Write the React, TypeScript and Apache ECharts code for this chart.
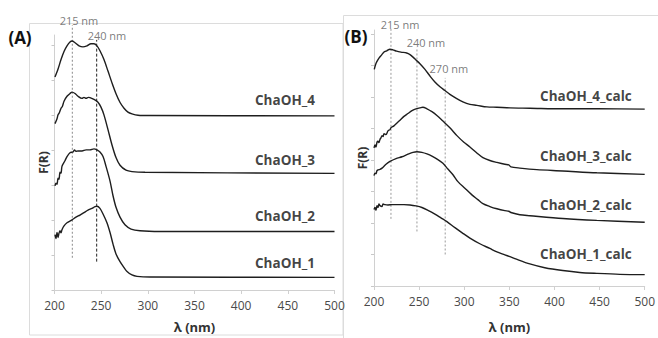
import React, { useEffect, useRef } from "react";
import * as echarts from "echarts";

type P = [number, number];

// x-axis tick values (nm)
const xTickValues = [200, 250, 300, 350, 400, 450, 500];
const yTicksA = [0, 1, 2, 3, 4, 5, 6, 7];
const yTicksB = [0, 1, 2, 3, 4, 5, 6, 7, 8];

// Panel A spectra [wavelength nm, F(R) offset units]
const chaOH4: P[] = [[200.5,6.08],[203.8,6.31],[207,6.58],[210.2,6.81],[213.4,6.97],[216.6,7.08],[218.8,7.11],[222,7.06],[226.3,6.97],[230.5,6.94],[234.8,6.97],[239.1,7.03],[242.3,7.03],[245.5,6.97],[248.7,6.83],[253,6.58],[257.3,6.25],[261.5,5.92],[265.8,5.61],[270.1,5.36],[274.5,5.19],[278.7,5.08],[283,5.03],[289.5,4.99],[302.3,4.98],[500,4.97]];
const chaOH3: P[] = [[200.5,4.75],[202.7,4.89],[203.8,5.0],[205.2,5.06],[207,5.19],[208.4,5.24],[210.2,5.39],[213.4,5.53],[216.6,5.61],[218.8,5.65],[222,5.61],[225.2,5.53],[229.5,5.47],[231.6,5.5],[233.8,5.47],[236.2,5.5],[238,5.49],[242.3,5.44],[246.6,5.36],[249.8,5.22],[253,5.0],[257.3,4.58],[261.6,4.14],[265.9,3.78],[270.2,3.56],[276.6,3.42],[283,3.38],[297,3.36],[500,3.33]];
const chaOH2: P[] = [[200.5,2.97],[201.6,3.05],[202.7,3.02],[203.8,3.19],[204.8,3.16],[205.9,3.36],[207,3.33],[208,3.53],[211.2,3.69],[213.4,3.81],[216.6,3.92],[219.8,3.94],[221.5,4.0],[223,3.96],[225.2,3.97],[229.5,3.97],[233.8,4.0],[238,4.0],[242.3,4.03],[245.5,4.0],[248.7,3.94],[252,3.81],[255.2,3.53],[259.5,3.11],[262.7,2.69],[265.9,2.36],[270.2,2.08],[275.5,1.86],[282,1.74],[291.6,1.69],[313,1.67],[500,1.67]];
const chaOH1: P[] = [[200.5,1.58],[201.6,1.47],[202.7,1.64],[203.8,1.5],[204.8,1.62],[205.9,1.69],[207,1.63],[208,1.72],[210.2,1.83],[213.4,1.92],[218.8,2.0],[223,2.08],[227.3,2.14],[231.6,2.21],[235.9,2.28],[240.2,2.33],[243.4,2.38],[245.5,2.39],[248.7,2.33],[252,2.17],[256.2,1.92],[259.5,1.64],[262.7,1.31],[265.9,1.03],[270.2,0.81],[274.5,0.64],[277.7,0.53],[283,0.43],[288.4,0.39],[302.3,0.37],[500,0.36]];

// Panel B spectra
const chaOH4calc: P[] = [[200.3,6.87],[201.7,7.02],[203,7.11],[205.5,7.23],[208.5,7.33],[211.1,7.42],[214.1,7.46],[217.7,7.51],[221,7.49],[225.1,7.45],[229.9,7.42],[236.2,7.39],[239.9,7.34],[243.2,7.26],[246.5,7.17],[250.9,7.05],[256.5,6.87],[262,6.66],[267.5,6.47],[273.1,6.32],[278.6,6.2],[284.1,6.08],[290.8,5.96],[298.5,5.84],[306.3,5.76],[314,5.73],[325.1,5.68],[336.2,5.67],[350.6,5.65],[372.7,5.64],[409.2,5.62],[446.9,5.62],[500,5.61]];
const chaOH3calc: P[] = [[200,4.38],[201.1,4.47],[202.2,4.41],[203.3,4.56],[204.4,4.59],[205.5,4.55],[206.6,4.65],[207.7,4.7],[208.9,4.77],[210,4.74],[211.1,4.83],[213.3,4.8],[215.5,4.92],[217.7,4.96],[218.8,5.02],[222.1,5.08],[225.5,5.17],[228.8,5.26],[233.2,5.38],[237.6,5.47],[242.1,5.56],[246.5,5.62],[250.9,5.65],[254.2,5.67],[258.7,5.62],[264.2,5.53],[269.7,5.41],[276.4,5.23],[284.1,5.02],[291.9,4.77],[299.6,4.56],[306.3,4.41],[314,4.22],[320.7,4.07],[328.4,3.98],[336.2,3.92],[345,3.86],[349.4,3.84],[351.7,3.78],[361.6,3.74],[380.4,3.69],[409.2,3.65],[446.9,3.59],[500,3.54]];
const chaOH2calc: P[] = [[200,3.5],[201.1,3.58],[202.2,3.56],[203.3,3.66],[204.4,3.68],[206.6,3.7],[208.9,3.74],[213.3,3.86],[217.7,3.95],[224.4,4.04],[231,4.1],[237.6,4.18],[243.2,4.24],[247.6,4.26],[253.1,4.24],[258.7,4.19],[264.2,4.12],[270.8,4.01],[276.4,3.89],[281.9,3.71],[287.5,3.53],[293,3.31],[300.7,3.1],[308.5,2.89],[315.1,2.74],[320.7,2.61],[328.4,2.52],[336.2,2.45],[345,2.39],[349.4,2.37],[351.7,2.33],[361.6,2.26],[372.7,2.23],[409.2,2.14],[446.9,2.08],[500,2.02]];
const chaOH1calc: P[] = [[200,2.43],[201.1,2.49],[202.2,2.4],[203.3,2.55],[204.4,2.49],[205.5,2.6],[206.6,2.55],[208.9,2.52],[210,2.6],[212.2,2.58],[215.5,2.57],[219.9,2.58],[226.6,2.58],[233.2,2.58],[239.9,2.57],[246.5,2.54],[253.1,2.49],[259.8,2.4],[267.5,2.28],[274.2,2.16],[280.8,2.04],[289.7,1.85],[298.5,1.67],[306.3,1.52],[317.3,1.34],[328.4,1.19],[336.2,1.08],[345,0.99],[350.6,0.93],[356.1,0.87],[372.7,0.7],[389.3,0.58],[409.2,0.49],[428,0.43],[446.9,0.4],[472.4,0.37],[500,0.36]];

// Guide lines (nm, from-to in F(R) units)
const guideA215: P[] = [[219.1, 0.92], [219.1, 7.56]];
const guideA240: P[] = [[245.2, 0.81], [245.2, 7.14]];
const guideB215: P[] = [[218.8, 2.13], [218.8, 8.18]];
const guideB240: P[] = [[247.6, 1.73], [247.6, 7.57]];
const guideB270: P[] = [[278.9, 1.0], [278.9, 6.6]];

// Annotation texts: [nm, value, text]
const annotA: [number, number, string][] = [[226.2, 7.69, "215 nm"], [256.2, 7.28, "240 nm"]];
const annotB: [number, number, string][] = [[228.8, 8.3, "215 nm"], [257.6, 7.72, "240 nm"], [283.0, 6.9, "270 nm"]];

// Series names (right edge position in data units)
const namesA: [number, number, string][] = [[479.1, 5.42, "ChaOH_4"], [479.1, 3.72, "ChaOH_3"], [479.1, 2.11, "ChaOH_2"], [479.1, 0.78, "ChaOH_1"]];
const namesB: [number, number, string][] = [[485.6, 6.02, "ChaOH_4_calc"], [485.6, 4.13, "ChaOH_3_calc"], [485.6, 2.58, "ChaOH_2_calc"], [485.6, 1.0, "ChaOH_1_calc"]];

const FONT = "Open Sans";

export default function App() {
  const ref = useRef<HTMLDivElement>(null);
  useEffect(() => {
    if (!ref.current) return;
    const chart = echarts.init(ref.current, undefined, { renderer: "svg" });

    const curve = (data: P[], gi: number) => ({
      type: "line",
      xAxisIndex: gi,
      yAxisIndex: gi,
      data,
      symbol: "none",
      smooth: 0.3,
      clip: false,
      silent: true,
      lineStyle: { color: "#1e1e1e", width: 1.4 },
    });
    const guide = (data: P[], gi: number, color: string, dash: number[]) => ({
      type: "line",
      xAxisIndex: gi,
      yAxisIndex: gi,
      data,
      symbol: "none",
      clip: false,
      silent: true,
      lineStyle: { color, width: 1, type: dash },
    });
    const texts = (items: [number, number, string][], gi: number, position: string, style: any) => ({
      type: "scatter",
      xAxisIndex: gi,
      yAxisIndex: gi,
      symbolSize: 0,
      clip: false,
      silent: true,
      data: items.map((d) => ({ value: [d[0], d[1]], label: { formatter: d[2] } })),
      label: { show: true, position, distance: 0, fontFamily: FONT, ...style },
    });

    const xAxis = (gi: number) => ({
      type: "value",
      gridIndex: gi,
      min: 200,
      max: 500,
      interval: 50,
      name: "λ (nm)",
      nameLocation: "middle",
      nameGap: gi === 0 ? 30 : 34,
      nameTextStyle: { fontFamily: FONT, fontWeight: "bold", fontSize: 13, color: "#333333" },
      axisLine: { lineStyle: { color: "#d0d0d0" } },
      axisTick: { show: true, length: 4, lineStyle: { color: "#d0d0d0" }, customValues: xTickValues },
      axisLabel: { fontFamily: FONT, fontSize: 12, color: "#4a4a4a", margin: 9, customValues: xTickValues },
      splitLine: { show: false },
    });
    const yAxis = (gi: number, max: number, ticks: number[], gap: number) => ({
      type: "value",
      gridIndex: gi,
      min: 0,
      max,
      name: "F(R)",
      nameLocation: "middle",
      nameGap: gap,
      nameRotate: 90,
      nameTextStyle: { fontFamily: FONT, fontWeight: "bold", fontSize: 12, color: "#333333" },
      axisLine: { show: true, lineStyle: { color: "#d0d0d0" } },
      axisTick: { show: true, length: 3, lineStyle: { color: "#c8c8c8" }, customValues: ticks },
      axisLabel: { show: false },
      splitLine: { show: false },
    });

    const nameStyle = { fontWeight: "bold", fontSize: 13.5, color: "#111111" };
    const annStyle = { fontSize: 11, color: "#595959" };

    chart.setOption({
      animation: false,
      backgroundColor: "#ffffff",
      textStyle: { fontFamily: FONT },
      grid: [
        { left: 54.5, top: 35, width: 280, height: 262 },
        { left: 374, top: 30, width: 271, height: 267 },
      ],
      xAxis: [xAxis(0), xAxis(1)],
      yAxis: [yAxis(0, 7.28, yTicksA, 5), yAxis(1, 8.12, yTicksB, 6)],
      graphic: [
        { type: "rect", shape: { x: 29.5, y: 23.5, width: 313.5, height: 311.5 }, style: { fill: "none", stroke: "#dcdcdc", lineWidth: 1 }, silent: true, z: -1 },
        { type: "rect", shape: { x: 343.5, y: 15.5, width: 330, height: 340 }, style: { fill: "none", stroke: "#dcdcdc", lineWidth: 1 }, silent: true, z: -1 },
        { type: "text", x: 20, y: 37, style: { text: "(A)", font: `bold 17px "${FONT}"`, fill: "#111111", textAlign: "center", textVerticalAlign: "middle" } },
        { type: "text", x: 356, y: 36, style: { text: "(B)", font: `bold 17px "${FONT}"`, fill: "#111111", textAlign: "center", textVerticalAlign: "middle" } },
      ],
      series: [
        guide(guideA215, 0, "#8a8a8a", [2, 2]),
        guide(guideA240, 0, "#222222", [3, 2]),
        guide(guideB215, 1, "#9a9a9a", [2, 2]),
        guide(guideB240, 1, "#9a9a9a", [2, 2]),
        guide(guideB270, 1, "#9a9a9a", [2, 2]),
        curve(chaOH4, 0),
        curve(chaOH3, 0),
        curve(chaOH2, 0),
        curve(chaOH1, 0),
        curve(chaOH4calc, 1),
        curve(chaOH3calc, 1),
        curve(chaOH2calc, 1),
        curve(chaOH1calc, 1),
        texts(annotA, 0, "inside", annStyle),
        texts(annotB, 1, "inside", annStyle),
        texts(namesA, 0, "left", nameStyle),
        texts(namesB, 1, "left", nameStyle),
      ],
    });
    return () => chart.dispose();
  }, []);
  return <div ref={ref} style={{ position: "fixed", left: 0, top: 0, width: 658, height: 338 }} />;
}
